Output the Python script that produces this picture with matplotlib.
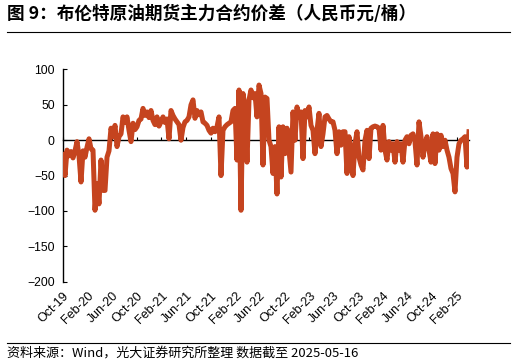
import matplotlib
matplotlib.use("Agg")
import matplotlib.pyplot as plt
import numpy as np

# spread values (RMB/bbl), evenly spaced along the axis
spread = [
    -20, -50, -14, -22, -16, -25, -15, -2, -22, -59,
    -15, -24, -10, 2, -12, -14, -99, -61, -90, -28,
    -71, -71, -24, -15, 17, 5, 21, -9, 5, 9,
    33, 25, 33, 14, -2, 24, 15, 19, 28, 30,
    45, 35, 40, 32, 42, 28, 22, 33, 20, 26,
    33, 25, 30, 2, 42, 35, 30, 26, 22, 0,
    18, 26, 28, 33, 50, 57, 31, 42, 36, 40,
    26, 24, 21, 14, 10, 17, 12, 19, 33, -50,
    14, 19, 22, 24, 26, 42, 45, -28, 71, -99,
    66, 47, -31, 57, 71, 60, 66, 33, 78, 66,
    -35, 61, 59, 0, -9, -47, -9, -76, 19, -52,
    19, -19, 17, -14, -45, 40, 0, 47, 33, 40,
    -26, 42, 33, 47, 21, 14, -19, 14, 38, -9,
    9, 33, 35, 30, 26, 26, 14, -19, 12, -7,
    12, 12, -47, 5, -14, -50, -5, 12, -24, -35,
    -42, 0, 14, -26, 17, 19, 20, 19, 17, -14,
    21, -14, -28, -2, -14, -5, -31, -2, -14, -5,
    -31, 0, 5, -5, 7, 9, -2, -35, 26, 5,
    -24, -5, 5, -14, -31, 9, -33, 9, -14, 7,
    -9, 0, -14, -24, -40, -47, -73, -24, -5, 0,
    2, 5, -38, 12,
]

tick_labels = [
    "Oct-19", "Feb-20", "Jun-20", "Oct-20", "Feb-21", "Jun-21",
    "Oct-21", "Feb-22", "Jun-22", "Oct-22", "Feb-23", "Jun-23",
    "Oct-23", "Feb-24", "Jun-24", "Oct-24", "Feb-25",
]

title = "图 9：布伦特原油期货主力合约价差（人民币元/桶）"
source = "资料来源：Wind，光大证券研究所整理 数据截至 2025-05-16"

cjk = ["Noto Sans CJK SC", "DejaVu Sans"]
plt.rcParams["font.family"] = ["Liberation Sans", "DejaVu Sans"]
plt.rcParams["font.size"] = 8

fig = plt.figure(figsize=(5.16, 3.64), dpi=100)
ax = fig.add_axes([0.1221, 0.2261, 0.7868, 0.5830])

x = np.arange(len(spread))
ax.plot(x, spread, color="#C5441F", linewidth=3.6, zorder=3,
        solid_joinstyle="round")

ax.set_xlim(0, len(spread) - 1)
ax.set_ylim(-200, 100)
ax.set_yticks(np.arange(-200, 101, 50))

for side in ("top", "right"):
    ax.spines[side].set_visible(False)
ax.spines["left"].set_linewidth(1.0)
ax.spines["bottom"].set_linewidth(1.0)
ax.spines["bottom"].set_position(("data", 0))
ax.tick_params(axis="y", direction="in", length=3, width=0.8,
               labelsize=8.8, pad=6)

# x ticks sit on the zero line, labels at the bottom of the plot
tick_step = 12.3
tick_pos = np.arange(len(tick_labels)) * tick_step
ax.set_xticks(tick_pos)
ax.tick_params(axis="x", direction="in", length=2.5, width=0.8,
               labelbottom=False)

sec = ax.secondary_xaxis(0)
sec.set_xticks(tick_pos)
sec.set_xticklabels(tick_labels, rotation=45, ha="right",
                    rotation_mode="anchor", fontsize=9)
sec.tick_params(length=0, pad=6)
sec.spines["bottom"].set_visible(False)

fig.text(0.014, 0.962, title, family=cjk, fontsize=12.7, weight="bold",
         va="center", ha="left")
fig.add_artist(plt.Line2D([0.014, 0.988], [0.913, 0.913],
                          color="black", linewidth=0.8))
fig.add_artist(plt.Line2D([0.014, 0.988], [0.057, 0.057],
                          color="black", linewidth=0.8))
fig.text(0.014, 0.031, source, family=cjk, fontsize=9.4,
         va="center", ha="left")

fig.savefig("out.png", dpi=100)
